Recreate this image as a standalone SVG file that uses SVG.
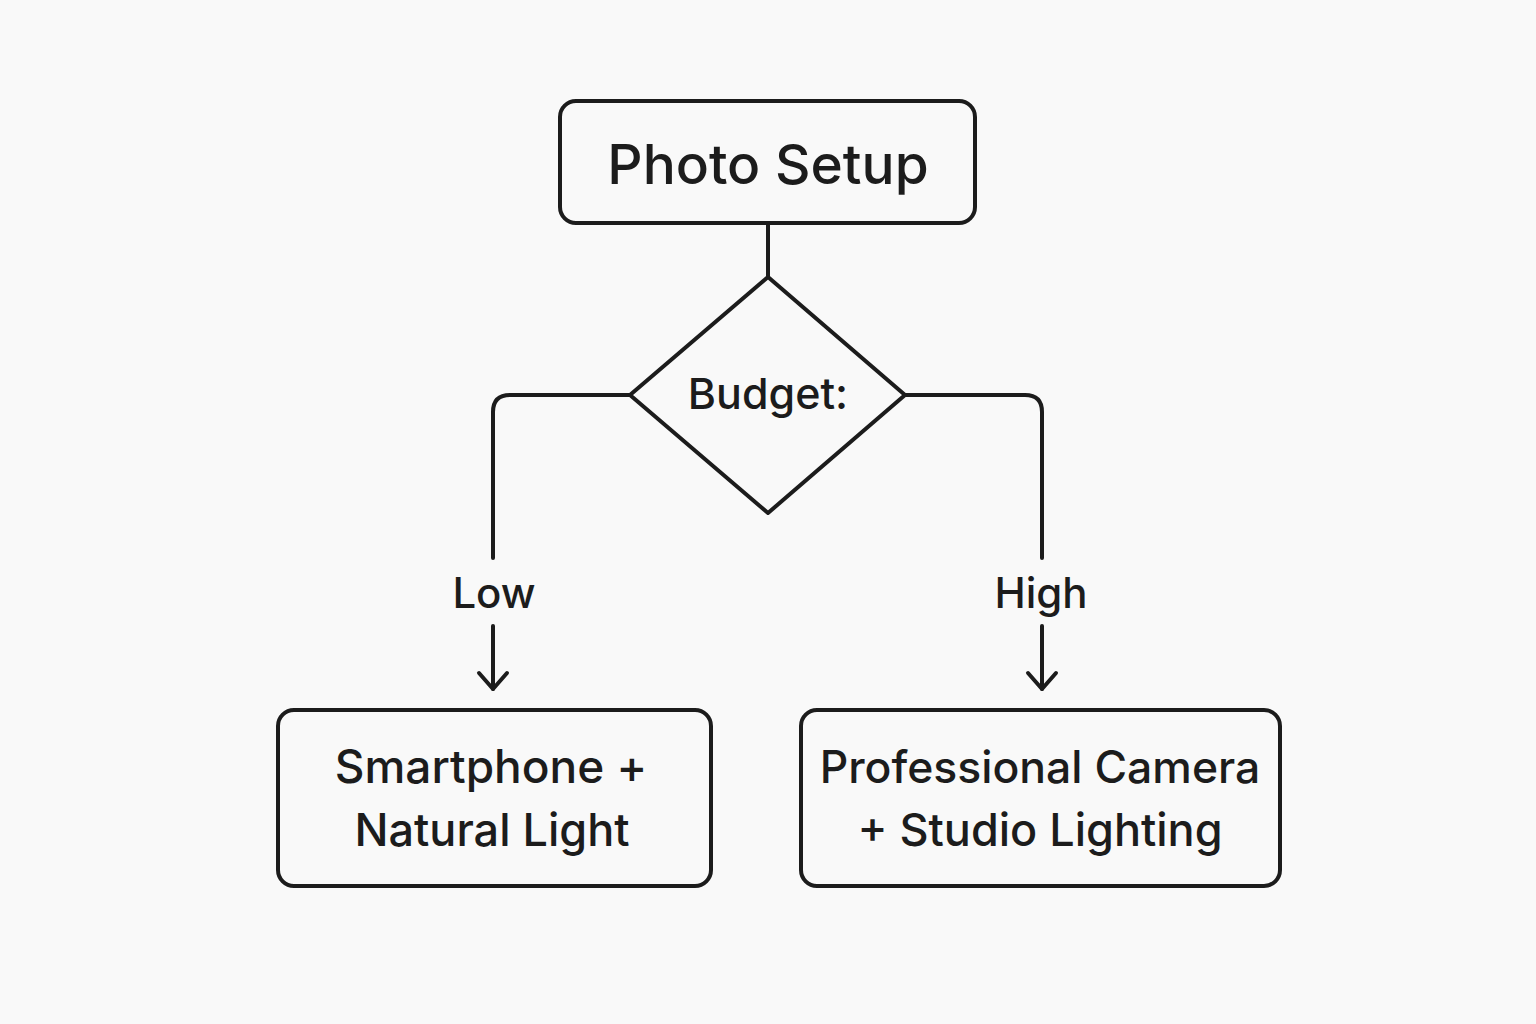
<svg xmlns="http://www.w3.org/2000/svg" width="1536" height="1024" viewBox="0 0 1536 1024">
<style>
.box{fill:none;stroke:#1c1c1c;stroke-width:4;}
.ln{fill:none;stroke:#1c1c1c;stroke-width:4;stroke-linecap:round;stroke-linejoin:round;}
.t{font-family:Inter,"Liberation Sans",sans-serif;font-weight:500;fill:#1c1c1c;text-anchor:middle;}
</style>
<rect width="1536" height="1024" fill="#f9f9f9"/>
<g id="connectors">
<line class="ln" x1="768" y1="223" x2="768" y2="277"/>
<path class="ln" d="M630 395 H510 Q493 395 493 412 V558"/>
<path class="ln" d="M905 395 H1025 Q1042 395 1042 412 V558"/>
<line class="ln" x1="493" y1="626" x2="493" y2="689"/>
<polyline class="ln" points="479,673 493,689 507,673"/>
<line class="ln" x1="1042" y1="626" x2="1042" y2="689"/>
<polyline class="ln" points="1028,673 1042,689 1056,673"/>
<text class="t" x="494" y="608" font-size="42">Low</text>
<text class="t" x="1041" y="608" font-size="42">High</text>
</g>
<g id="photo-setup">
<rect class="box" x="560" y="101" width="415" height="122" rx="16"/>
<text class="t" x="768" y="184" font-size="55">Photo Setup</text>
</g>
<g id="budget">
<polygon class="ln" points="768,277 905,395 768,513 630,395"/>
<text class="t" x="768" y="409" font-size="43">Budget:</text>
</g>
<g id="low-option">
<rect class="box" x="278" y="710" width="433" height="176" rx="16"/>
<text class="t" x="491" y="783" font-size="46">Smartphone +</text>
<text class="t" x="492" y="846" font-size="45">Natural Light</text>
</g>
<g id="high-option">
<rect class="box" x="801" y="710" width="479" height="176" rx="16"/>
<text class="t" x="1040" y="783" font-size="44.5">Professional Camera</text>
<text class="t" x="1040" y="846" font-size="45">+ Studio Lighting</text>
</g>
</svg>
